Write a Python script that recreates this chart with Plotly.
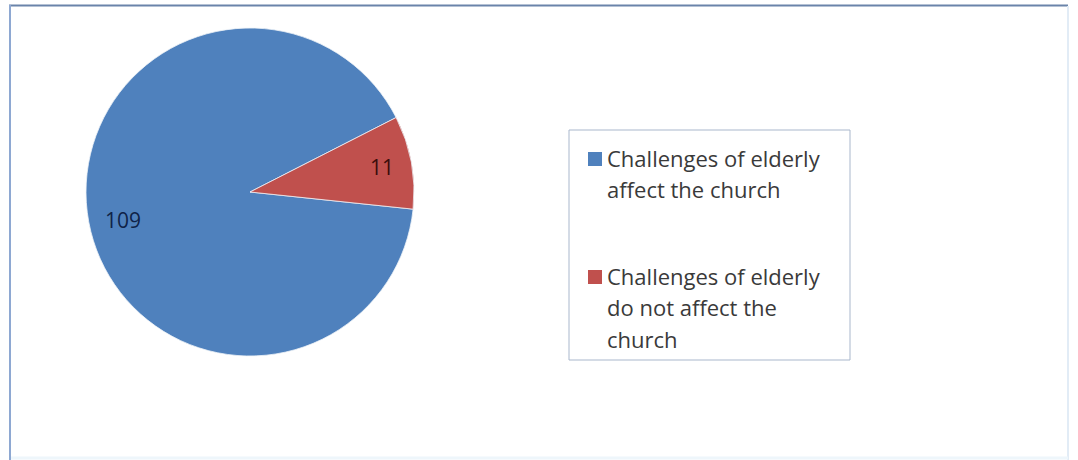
import math
import plotly.graph_objects as go

# Survey responses
categories = [
    "Challenges of elderly affect the church",
    "Challenges of elderly do not affect the church",
]
legend_lines = [
    ["Challenges of elderly", "affect the church"],
    ["Challenges of elderly", "do not affect the", "church"],
]
counts = [109, 11]
slice_colors = ["#4F81BD", "#C0504D"]
label_colors = ["#0f2347", "#3b0d0b"]

W, H = 1078, 460
FONT = "Open Sans"

# pie geometry (pixels)
cx, cy, r = 250, 192, 164
rotation = 96  # degrees clockwise from 12 o'clock where the first slice starts


def px(x):
    return x / W


def py(y):
    return 1 - y / H


fig = go.Figure()
fig.add_trace(go.Pie(
    labels=categories,
    values=counts,
    sort=False,
    direction="clockwise",
    rotation=rotation,
    marker=dict(colors=slice_colors, line=dict(color="#eef2f8", width=0.8)),
    textinfo="none",
    hoverinfo="label+value",
    showlegend=False,
    domain=dict(x=[px(cx - r), px(cx + r)], y=[py(cy + r), py(cy - r)]),
))

annotations = []
shapes = []

# value labels at each slice's mid-angle
total = sum(counts)
start = rotation
label_radius = [0.79, 0.82]
label_yshift = [-4, 0]
for v, col, rr, ys in zip(counts, label_colors, label_radius, label_yshift):
    span = 360 * v / total
    mid = math.radians(start + span / 2)
    lx = cx + rr * r * math.sin(mid)
    ly = cy - rr * r * math.cos(mid)
    annotations.append(dict(
        x=px(lx), y=py(ly), xref="paper", yref="paper",
        text=str(v), showarrow=False, yshift=ys,
        font=dict(family=FONT, size=21, color=col),
        xanchor="center", yanchor="middle",
    ))
    start += span

# legend box
shapes.append(dict(type="rect", xref="paper", yref="paper",
                   x0=px(569), x1=px(850), y0=py(360), y1=py(130),
                   line=dict(color="#a9b7cc", width=1), fillcolor="rgba(0,0,0,0)"))

key_tops = [152, 270]
line_centers = [[158, 189], [276, 307, 339]]
for lines, col, top, centers in zip(legend_lines, slice_colors, key_tops, line_centers):
    shapes.append(dict(type="rect", xref="paper", yref="paper",
                       x0=px(588), x1=px(602), y0=py(top + 14), y1=py(top),
                       line=dict(width=0), fillcolor=col))
    for text, yc in zip(lines, centers):
        annotations.append(dict(
            x=px(605), y=py(yc), xref="paper", yref="paper",
            text=text, showarrow=False,
            font=dict(family=FONT, size=22, color="#3a3a3a"),
            xanchor="left", yanchor="middle",
        ))

# chart frame
shapes += [
    dict(type="line", xref="paper", yref="paper", x0=px(9), x1=px(1068), y0=py(5.5), y1=py(5.5),
         line=dict(color="#6a84aa", width=2)),
    dict(type="line", xref="paper", yref="paper", x0=px(10), x1=px(10), y0=py(5), y1=py(460),
         line=dict(color="#8ea8d2", width=2)),
    dict(type="line", xref="paper", yref="paper", x0=px(1068), x1=px(1068), y0=py(6), y1=py(460),
         line=dict(color="#e2ecf6", width=2)),
    dict(type="line", xref="paper", yref="paper", x0=px(11), x1=px(1068), y0=py(458), y1=py(458),
         line=dict(color="#eef6fb", width=3)),
]

fig.update_layout(
    width=W, height=H,
    margin=dict(l=0, r=0, t=0, b=0),
    paper_bgcolor="white",
    plot_bgcolor="white",
    annotations=annotations,
    shapes=shapes,
)

fig.write_html("out.html")
